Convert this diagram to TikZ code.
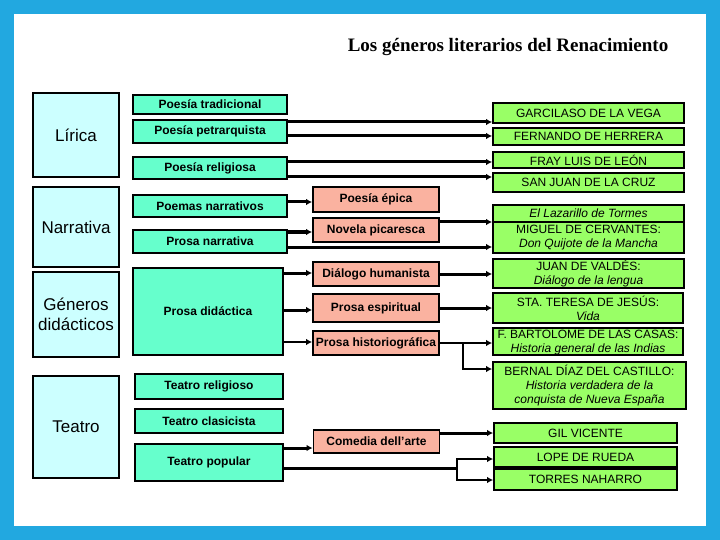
\documentclass[tikz,border=0pt]{standalone}
\usepackage{fontspec}
\setmainfont{Liberation Sans}
\newfontfamily\titlefont{Liberation Serif}
\usetikzlibrary{arrows.meta}

\definecolor{frameblue}{RGB}{34,168,224}
\definecolor{catfill}{RGB}{204,255,255}
\definecolor{genfill}{RGB}{102,255,204}
\definecolor{subfill}{RGB}{250,178,160}
\definecolor{autfill}{RGB}{153,255,102}

\begin{document}
\begin{tikzpicture}[x=1pt,y=-1pt,
    catbox/.style={draw, line width=1.8pt, fill=catfill, inner sep=0pt, align=center, font=\fontsize{17}{20}\selectfont},
    genbox/.style={draw, line width=1.8pt, fill=genfill, inner sep=0pt, align=center, font=\fontsize{12}{14}\selectfont\bfseries},
    subbox/.style={draw, line width=1.8pt, fill=subfill, inner sep=0pt, align=center, minimum width=126pt, font=\fontsize{12}{14}\selectfont\bfseries},
    autbox/.style={draw, line width=1.8pt, fill=autfill, inner sep=0pt, align=center, font=\fontsize{12}{14}\selectfont},
    link/.style={line width=3pt, -{Latex[length=6pt,width=6.5pt]}},
    thinlink/.style={line width=2.2pt, -{Latex[length=6pt,width=6.5pt]}}]

    % Frame
    \useasboundingbox (0,0) rectangle (720,540);
    \fill[frameblue] (0,0) rectangle (720,540);
    \fill[white] (14,14) rectangle (706,526);

    % Title
    \node[font=\titlefont\bfseries\fontsize{19}{22}\selectfont] (title) at (508,47) {Los géneros literarios del Renacimiento};

    % Genres (left column)
    \node[catbox, minimum width=86pt, minimum height=84pt] (lirica) at (76,135) {Lírica};
    \node[catbox, minimum width=86pt, minimum height=80pt] (narrativa) at (76,227) {Narrativa};
    \node[catbox, minimum width=86pt, minimum height=85pt] (didacticos) at (76,314.5) {Géneros\\didácticos};
    \node[catbox, minimum width=86pt, minimum height=102pt] (teatro) at (76,427) {Teatro};

    % Subgenres
    \node[genbox, minimum width=154pt, minimum height=19pt] (tradicional) at (210,104.5) {Poesía tradicional};
    \node[genbox, minimum width=154pt, minimum height=23pt] (petrarquista) at (210,131.5) {Poesía petrarquista};
    \node[genbox, minimum width=154pt, minimum height=22pt] (religiosa) at (210,168) {Poesía religiosa};
    \node[genbox, minimum width=154pt, minimum height=22pt] (poemas) at (210,206) {Poemas narrativos};
    \node[genbox, minimum width=154pt, minimum height=23pt] (prosanarr) at (210,241.5) {Prosa narrativa};
    \node[genbox, minimum width=150pt, minimum height=87pt] (prosadid) at (208,311.5) {Prosa didáctica};
    \node[genbox, minimum width=148pt, minimum height=25pt] (treligioso) at (209,386.5) {Teatro religioso};
    \node[genbox, minimum width=148pt, minimum height=24pt] (tclasicista) at (209,421) {Teatro clasicista};
    \node[genbox, minimum width=148pt, minimum height=37pt] (tpopular) at (209,462.5) {Teatro popular};

    % Kinds
    \node[subbox, minimum height=25pt] (epica) at (376,199.5) {Poesía épica};
    \node[subbox, minimum height=24pt] (picaresca) at (376,230) {Novela picaresca};
    \node[subbox, minimum height=24pt] (dialogo) at (376,274) {Diálogo humanista};
    \node[subbox, minimum height=28pt] (espiritual) at (376,308) {Prosa espiritual};
    \node[subbox, minimum height=24pt] (historiografica) at (376,343) {Prosa historiográfica};
    \node[subbox, minimum height=23pt] (comedia) at (376.5,441.5) {Comedia dell’arte};

    % Authors and works
    \node[autbox, minimum width=191pt, minimum height=20pt] (garcilaso) at (588.5,113) {GARCILASO DE LA VEGA};
    \node[autbox, minimum width=191pt, minimum height=17pt] (herrera) at (588.5,136.5) {FERNANDO DE HERRERA};
    \node[autbox, minimum width=191pt, minimum height=16pt] (fray) at (588.5,160) {FRAY LUIS DE LEÓN};
    \node[autbox, minimum width=191pt, minimum height=19pt] (sanjuan) at (588.5,182.5) {SAN JUAN DE LA CRUZ};
    \node[autbox, minimum width=191pt, minimum height=17pt] (lazarillo) at (588.5,213.5) {\itshape El Lazarillo de Tormes};
    \node[autbox, minimum width=191pt, minimum height=31pt] (cervantes) at (588.5,237.5) {MIGUEL DE CERVANTES:\\\itshape Don Quijote de la Mancha};
    \node[autbox, minimum width=191pt, minimum height=29pt] (valdes) at (588.5,273.5) {JUAN DE VALDÉS:\\\itshape Diálogo de la lengua};
    \node[autbox, minimum width=190pt, minimum height=30pt] (teresa) at (588,308) {STA. TERESA DE JESÚS:\\\itshape Vida};
    \node[autbox, minimum width=190pt, minimum height=27pt] (bartolome) at (588,341.5) {F. BARTOLOMÉ DE LAS CASAS:\\\itshape Historia general de las Indias};
    \node[autbox, minimum width=193pt, minimum height=47pt] (bernal) at (589.5,385.5) {BERNAL DÍAZ DEL CASTILLO:\\\itshape Historia verdadera de la\\\itshape conquista de Nueva España};
    \node[autbox, minimum width=183pt, minimum height=20pt] (gil) at (585.5,433) {GIL VICENTE};
    \node[autbox, minimum width=183pt, minimum height=20pt] (lope) at (585.5,457) {LOPE DE RUEDA};
    \node[autbox, minimum width=183pt, minimum height=21pt] (torres) at (585.5,479.5) {TORRES NAHARRO};

    % Lírica links
    \draw[link] ([yshift=9.5pt]petrarquista.east) -- ([yshift=9.5pt]petrarquista.east -| garcilaso.west);
    \draw[link] ([yshift=-4.5pt]petrarquista.east) -- ([yshift=-4.5pt]petrarquista.east -| herrera.west);
    \draw[link] ([yshift=6pt]religiosa.east) -- ([yshift=6pt]religiosa.east -| fray.west);
    \draw[link] ([yshift=-9pt]religiosa.east) -- ([yshift=-9pt]religiosa.east -| sanjuan.west);

    % Narrativa links
    \draw[link] ([yshift=4pt]poemas.east) -- ([yshift=4pt]poemas.east -| epica.west);
    \draw[link] ([yshift=9.5pt]prosanarr.east) -- ([yshift=9.5pt]prosanarr.east -| picaresca.west);
    \draw[link] ([yshift=-5.5pt]prosanarr.east) -- ([yshift=-5.5pt]prosanarr.east -| cervantes.west);
    \draw[link] ([yshift=8pt]picaresca.east) -- ([yshift=8pt]picaresca.east -| lazarillo.west);

    % Didactic links
    \draw[link] ([yshift=38.5pt]prosadid.east) -- ([yshift=38.5pt]prosadid.east -| dialogo.west);
    \draw[link] ([yshift=1.5pt]prosadid.east) -- ([yshift=1.5pt]prosadid.east -| espiritual.west);
    \draw[thinlink] ([yshift=-30.5pt]prosadid.east) -- ([yshift=-30.5pt]prosadid.east -| historiografica.west);
    \draw[link] (dialogo.east) -- (dialogo.east -| valdes.west);
    \draw[link] (espiritual.east) -- (espiritual.east -| teresa.west);
    \draw[thinlink] (historiografica.east) -- (historiografica.east -| bartolome.west);
    \draw[thinlink] ([xshift=23pt]historiografica.east) |- ([yshift=16.5pt]bernal.west);

    % Teatro links
    \draw[link] ([yshift=14.5pt]tpopular.east) -- ([yshift=14.5pt]tpopular.east -| comedia.west);
    \draw[link] ([yshift=8.5pt]comedia.east) -- ([yshift=8.5pt]comedia.east -| gil.west);
    \draw[line width=3pt] ([yshift=-5.5pt]tpopular.east) -- ++(173,0) coordinate (split);
    \draw[thinlink] (split) |- ([yshift=-2pt]lope.west);
    \draw[thinlink] (split) |- ([yshift=-0.5pt]torres.west);

\end{tikzpicture}
\end{document}
